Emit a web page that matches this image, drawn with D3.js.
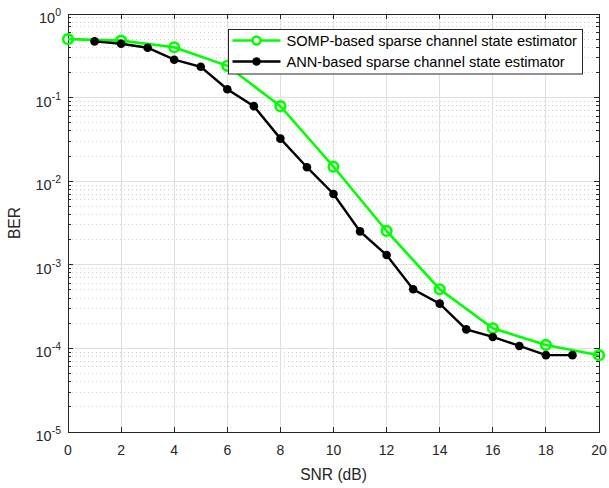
<!DOCTYPE html>
<html>
<head>
<meta charset="utf-8">
<script src="https://cdn.jsdelivr.net/npm/d3@7"></script>
<style>
  body { margin: 0; background: #fff; }
  svg { display: block; font-family: "Liberation Sans", Arial, sans-serif; }
</style>
</head>
<body>
<svg id="chart" width="609" height="488"></svg>
<script>
// SNR / BER
const snrSomp = [0, 2, 4, 6, 8, 10, 12, 14, 16, 18, 20];
const berSomp = [0.50, 0.48, 0.40, 0.24, 0.079, 0.0149, 0.00254, 5.1e-4, 1.74e-4, 1.10e-4, 8.3e-5];

const snrAnn = [1, 2, 3, 4, 5, 6, 7, 8, 9, 10, 11, 12, 13, 14, 15, 16, 17, 18, 19];
const berAnn = [0.47, 0.44, 0.395, 0.284, 0.234, 0.126, 0.079, 0.0323, 0.0147, 0.00703,
                0.00251, 0.00131, 5.1e-4, 3.43e-4, 1.69e-4, 1.37e-4, 1.07e-4, 8.3e-5, 8.3e-5];

const xTicks = [0, 2, 4, 6, 8, 10, 12, 14, 16, 18, 20];
const yDecades = [-5, -4, -3, -2, -1, 0];

const seriesNames = ["SOMP-based sparse channel state estimator", "ANN-based sparse channel state estimator"];

const svg = d3.select("#chart");
const axisColor = "#262626";

const x = d3.scaleLinear().domain([0, 20]).range([68, 599]);
const y = d3.scaleLog().domain([1e-5, 1]).range([432, 14]);

// minor values for log grid
let minorVals = [];
for (let d = -5; d < 0; d += 1) {
    for (let m = 2; m <= 9; m += 1) minorVals.push(m * Math.pow(10, d));
}

const grid = svg.append("g").attr("shape-rendering", "crispEdges");

grid.selectAll(".minor")
    .data(minorVals)
    .join("line")
    .attr("x1", x(0)).attr("x2", x(20))
    .attr("y1", (d) => y(d)).attr("y2", (d) => y(d))
    .attr("stroke", "#d2d2d2")
    .attr("stroke-dasharray", "1,3");

grid.selectAll(".vmajor")
    .data(xTicks.slice(1, -1))
    .join("line")
    .attr("x1", (d) => x(d)).attr("x2", (d) => x(d))
    .attr("y1", y(1)).attr("y2", y(1e-5))
    .attr("stroke", "#dfdfdf");

grid.selectAll(".hmajor")
    .data(yDecades.slice(1, -1))
    .join("line")
    .attr("x1", x(0)).attr("x2", x(20))
    .attr("y1", (d) => y(Math.pow(10, d))).attr("y2", (d) => y(Math.pow(10, d)))
    .attr("stroke", "#dfdfdf");

// axes box + inward ticks
const axes = svg.append("g").attr("shape-rendering", "crispEdges").attr("stroke", axisColor);

axes.append("rect")
    .attr("x", x(0)).attr("y", y(1))
    .attr("width", x(20) - x(0)).attr("height", y(1e-5) - y(1))
    .attr("fill", "none");

for (const side of ["bottom", "top"]) {
    const y0 = side === "bottom" ? y(1e-5) : y(1);
    const dir = side === "bottom" ? -1 : 1;
    axes.append("g").selectAll("line")
        .data(xTicks)
        .join("line")
        .attr("x1", (d) => x(d)).attr("x2", (d) => x(d))
        .attr("y1", y0).attr("y2", y0 + dir * 5);
}

for (const side of ["left", "right"]) {
    const x0 = side === "left" ? x(0) : x(20);
    const dir = side === "left" ? 1 : -1;
    axes.append("g").selectAll("line")
        .data(yDecades)
        .join("line")
        .attr("x1", x0).attr("x2", x0 + dir * 5)
        .attr("y1", (d) => y(Math.pow(10, d))).attr("y2", (d) => y(Math.pow(10, d)));
    axes.append("g").selectAll("line")
        .data(minorVals)
        .join("line")
        .attr("x1", x0).attr("x2", x0 + dir * 3)
        .attr("y1", (d) => y(d)).attr("y2", (d) => y(d));
}

// tick labels
svg.append("g").selectAll("text")
    .data(xTicks)
    .join("text")
    .attr("x", (d) => x(d))
    .attr("y", y(1e-5) + 23)
    .attr("text-anchor", "middle")
    .attr("font-size", 14)
    .attr("fill", axisColor)
    .text((d) => d);

svg.append("g").selectAll("text")
    .data(yDecades)
    .join("text")
    .attr("x", 61)
    .attr("y", (d) => y(Math.pow(10, d)) + 9)
    .attr("text-anchor", "end")
    .attr("font-size", 14.5)
    .attr("fill", axisColor)
    .each(function (d) {
        d3.select(this).append("tspan").text("10");
        d3.select(this).append("tspan")
            .attr("dy", -7)
            .attr("font-size", 10.5)
            .text(d);
    });

// axis labels
svg.append("text")
    .attr("x", (x(0) + x(20)) / 2)
    .attr("y", 480)
    .attr("text-anchor", "middle")
    .attr("font-size", 15.6)
    .attr("fill", axisColor)
    .text("SNR (dB)");

svg.append("text")
    .attr("transform", `translate(20, ${(y(1) + y(1e-5)) / 2}) rotate(-90)`)
    .attr("text-anchor", "middle")
    .attr("font-size", 15.6)
    .attr("fill", axisColor)
    .text("BER");

// series
const line = d3.line().x((d) => x(d[0])).y((d) => y(d[1]));
const sompPts = d3.zip(snrSomp, berSomp);
const annPts = d3.zip(snrAnn, berAnn);

svg.append("path")
    .datum(sompPts)
    .attr("d", line)
    .attr("fill", "none")
    .attr("stroke", "#00ff00")
    .attr("stroke-width", 2.6);

svg.append("g").selectAll("circle")
    .data(sompPts)
    .join("circle")
    .attr("cx", (d) => x(d[0]))
    .attr("cy", (d) => y(d[1]))
    .attr("r", 4.8)
    .attr("fill", "none")
    .attr("stroke", "#00ff00")
    .attr("stroke-width", 2.6);

svg.append("path")
    .datum(annPts)
    .attr("d", line)
    .attr("fill", "none")
    .attr("stroke", "#000")
    .attr("stroke-width", 2.4);

svg.append("g").selectAll("circle")
    .data(annPts)
    .join("circle")
    .attr("cx", (d) => x(d[0]))
    .attr("cy", (d) => y(d[1]))
    .attr("r", 4.3)
    .attr("fill", "#000");

// legend
const legend = svg.append("g").attr("transform", "translate(228.5, 29.5)");
legend.append("rect")
    .attr("width", 354).attr("height", 44.5)
    .attr("fill", "#fff")
    .attr("stroke", axisColor)
    .attr("stroke-width", 1);

const legendItems = [
    { name: seriesNames[0], color: "#00ff00", hollow: true, sw: 2.6, r: 4 },
    { name: seriesNames[1], color: "#000", hollow: false, sw: 2.4, r: 4.3 },
];

legend.selectAll(".item")
    .data(legendItems)
    .join("g")
    .attr("transform", (d, i) => `translate(0, ${11 + i * 21})`)
    .each(function (d) {
        const g = d3.select(this);
        g.append("line")
            .attr("x1", 4).attr("x2", 52)
            .attr("stroke", d.color)
            .attr("stroke-width", d.sw);
        g.append("circle")
            .attr("cx", 28).attr("r", d.r)
            .attr("fill", d.hollow ? "#fff" : d.color)
            .attr("stroke", d.color)
            .attr("stroke-width", d.hollow ? 2.4 : 0);
        g.append("text")
            .attr("x", 58).attr("y", 5)
            .attr("font-size", 14.6)
            .attr("fill", "#000")
            .text(d.name);
    });
</script>
</body>
</html>
